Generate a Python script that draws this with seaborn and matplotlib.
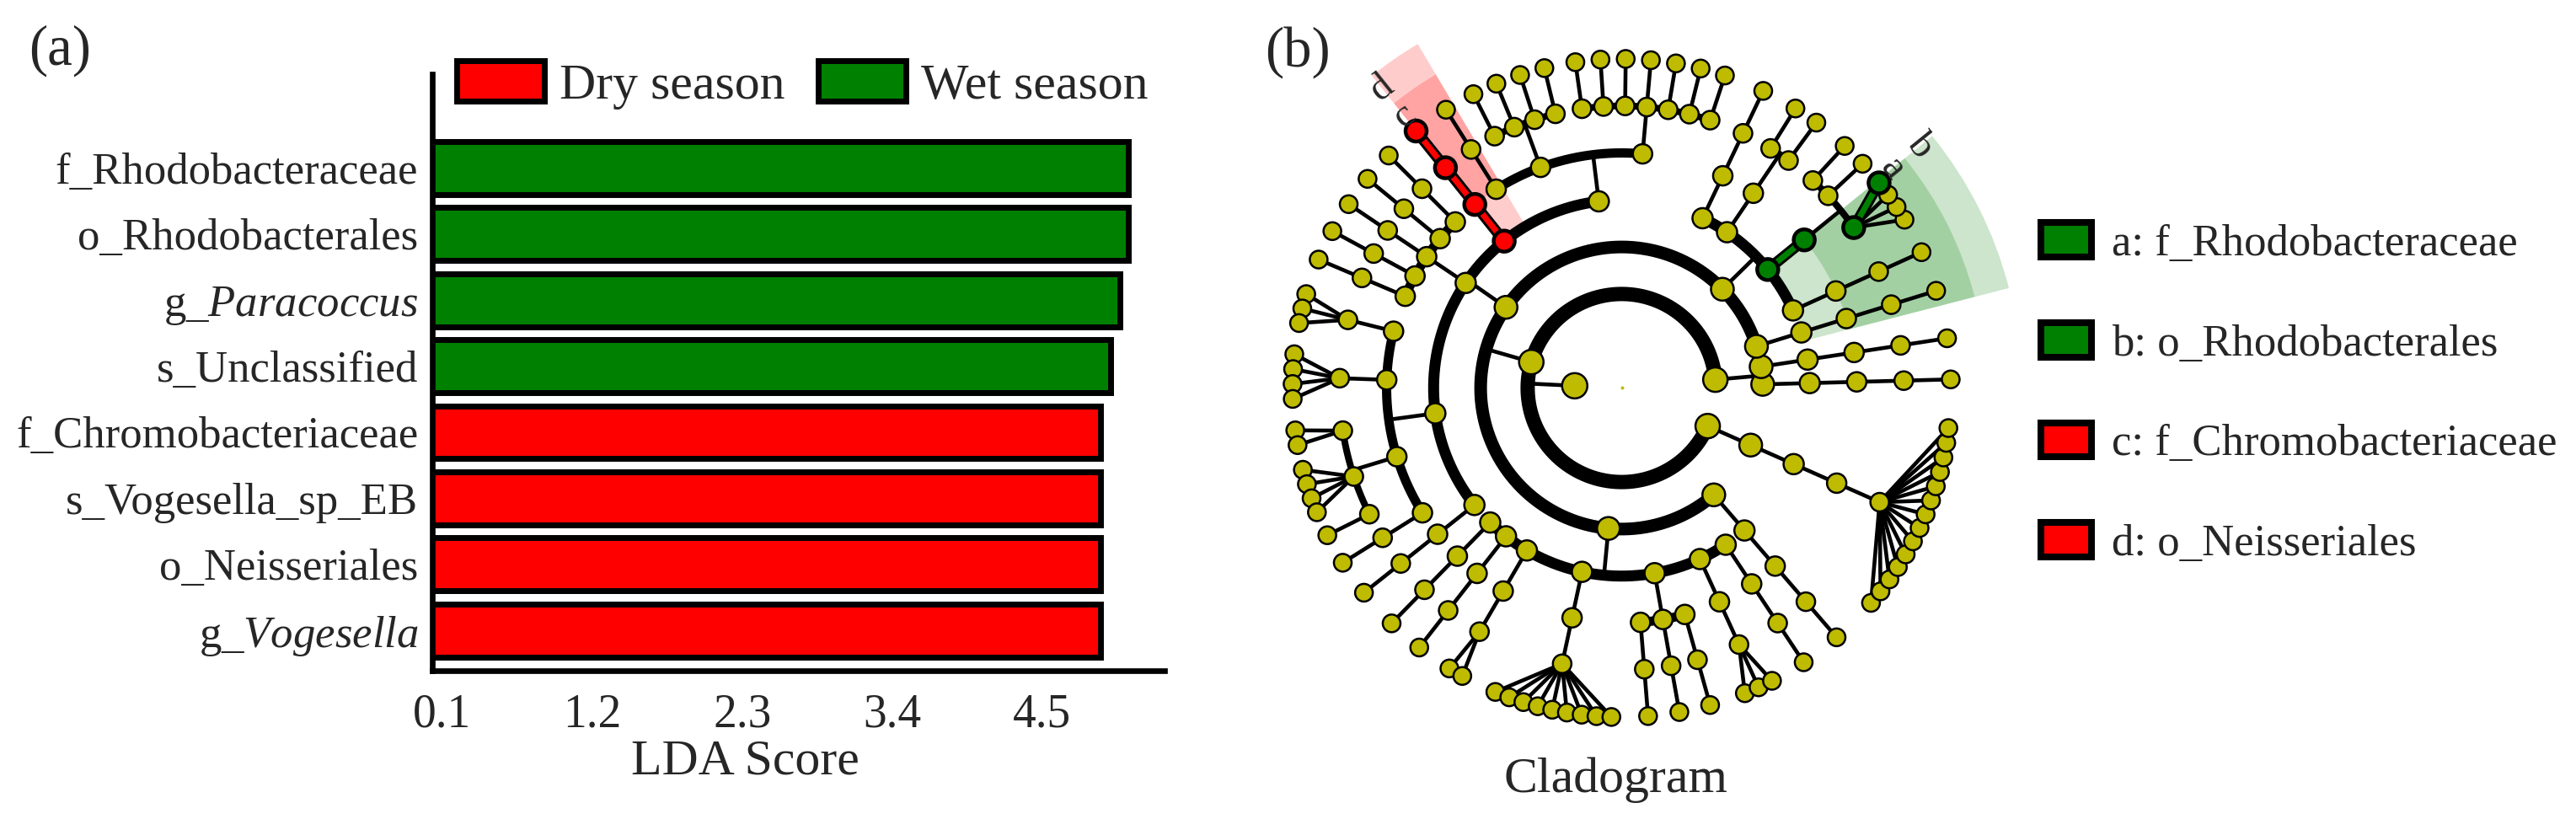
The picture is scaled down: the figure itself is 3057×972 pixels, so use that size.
import numpy as np
import pandas as pd
import matplotlib
matplotlib.use("Agg")
import matplotlib.pyplot as plt
from matplotlib.patches import Patch, Wedge
import seaborn as sns

# ---------------- data: panel (a) LDA scores ----------------
taxa = ["f_Rhodobacteraceae", "o_Rhodobacterales", "g_$\\mathit{Paracoccus}$",
        "s_Unclassified", "f_Chromobacteriaceae", "s_Vogesella_sp_EB",
        "o_Neisseriales", "g_$\\mathit{Vogesella}$"]
lda_score = [5.13, 5.13, 5.07, 5.00, 4.93, 4.93, 4.93, 4.93]
group = ["Wet season"] * 4 + ["Dry season"] * 4
lda_ticks = [0.1, 1.2, 2.3, 3.4, 4.5]
season_colors = {"Dry season": "#ff0000", "Wet season": "#008000"}

# ---------------- data: panel (b) cladogram ----------------
# kingdom -> phyla -> classes -> orders -> families -> genera (int = number of species)
phyla = [
    [[[[1]]], [[[1]]]],
    [
        [[[1]]],
        [[[1]], [[4, 1, 1]], [[1, 1]], [[1]]],
        [[[1] * 7, [1] * 4, [1]], [[1]], [[1], [1], [1], [1], [1]],
         [[3], [4], [2, 4, 1], [1]], [[1]]],
        [[[1]], [[1]], [[2]], [[9]], [[1], [1], [1]], [[3]], [[1]]],
        [[[1]]],
    ],
    [[[[14]]]],
]
# enriched clades (path from phylum index), group, letter
clade_paths = [(1, 1, 1), (1, 1, 1, 0), (1, 1, 1, 0, 0), (1, 1, 1, 0, 0, 3),
               (1, 2, 1), (1, 2, 1, 0), (1, 2, 1, 0, 0), (1, 2, 1, 0, 0, 0)]
clade_group = ["Wet season"] * 4 + ["Dry season"] * 4
clade_letter = ["b", "a", None, None, "d", "c", None, None]
legend_names = ["a: f_Rhodobacteraceae", "b: o_Rhodobacterales",
                "c: f_Chromobacteriaceae", "d: o_Neisseriales"]
legend_group = ["Wet season", "Wet season", "Dry season", "Dry season"]

node_color = "#bebb00"
PX = 0.72  # points per pixel at dpi 100

sns.set_style("white")
plt.rcParams["font.family"] = ["Liberation Serif", "DejaVu Serif"]
plt.rcParams["mathtext.fontset"] = "custom"
plt.rcParams["mathtext.rm"] = "Liberation Serif"
plt.rcParams["mathtext.it"] = "Liberation Serif:italic"

fig = plt.figure(figsize=(30.57, 9.72), dpi=100)

# ================= panel (a) =================
ax1 = fig.add_axes([513 / 3057, 1 - 796 / 972, 869 / 3057, 708 / 972])
df = pd.DataFrame({"taxon": taxa, "lda": lda_score, "group": group})
sns.barplot(data=df, x="lda", y="taxon", hue="group", palette=season_colors,
            saturation=1, dodge=False, orient="h", width=0.8, edgecolor="black",
            linewidth=5, legend=False, ax=ax1)
ax1.set_ylim(7.61, -1.42)
ax1.set_xlim(0.026, 5.397)
ax1.set_xticks(lda_ticks)
ax1.set_xticklabels([f"{t:.1f}" for t in lda_ticks])
ax1.set_ylabel("")
ax1.set_xlabel("LDA Score", fontsize=43, labelpad=0)
ax1.xaxis.set_label_coords(0.427, -0.115)
for s in ["top", "right"]:
    ax1.spines[s].set_visible(False)
for s in ["left", "bottom"]:
    ax1.spines[s].set_linewidth(4.8)
    ax1.spines[s].set_color("black")
ax1.tick_params(axis="y", length=0, pad=12, labelsize=38)
ax1.tick_params(axis="x", length=17, width=4.3, pad=2, labelsize=40,
                direction="out", color="black")
ax1.grid(False)
handles = [Patch(facecolor=season_colors[g], edgecolor="black", linewidth=5, label=g)
           for g in ["Dry season", "Wet season"]]
ax1.legend(handles=handles, loc="upper left", bbox_to_anchor=(0.033, 1.023),
           ncol=2, frameon=False, fontsize=43, handlelength=1.74,
           handleheight=0.87, handletextpad=0.31, columnspacing=0.66,
           borderpad=0, borderaxespad=0)

# ================= panel (b) =================
ax2 = fig.add_axes([1450 / 3057, 0, 950 / 3057, 1])
ax2.axis("off")

STEP = 55.8
GAP = [8.5, 7.2, 6.4, 5.5, 4.4, 2.6]   # angular gap by divergence rank
ARC_PX = {2: 17, 3: 15, 4: 13, 5: 11, 6: 8}
NODE_PX = {1: 30, 2: 29, 3: 27, 4: 24, 5: 23, 6: 22, 7: 21}
THIN = 4.6


def build(obj, level, path):
    if level == 7:
        return {"level": 7, "path": path, "kids": []}
    if level == 6:
        kids = [build(None, 7, path + (i,)) for i in range(obj)]
    else:
        kids = [build(o, level + 1, path + (i,)) for i, o in enumerate(obj)]
    return {"level": level, "path": path, "kids": kids}


kingdom = build(phyla, 1, ())
nodes, leaves = [], []


def collect(n):
    nodes.append(n)
    if not n["kids"]:
        leaves.append(n)
    for k in n["kids"]:
        collect(k)


collect(kingdom)

cum = [0.0]
for a, b in zip(leaves[:-1], leaves[1:]):
    k = next(i for i in range(6) if a["path"][i] != b["path"][i])
    cum.append(cum[-1] + GAP[k])
scale = 360.0 / (cum[-1] + GAP[0])
for n, c in zip(leaves, cum):
    n["theta"] = 1.5 + c * scale


def set_theta(n):
    if n["kids"]:
        for k in n["kids"]:
            set_theta(k)
        n["lo"], n["hi"] = n["kids"][0]["lo"], n["kids"][-1]["hi"]
        n["theta"] = (n["lo"] + n["hi"]) / 2
    else:
        n["lo"] = n["hi"] = n["theta"]


set_theta(kingdom)

hl = dict(zip(clade_paths, clade_group))
for n in nodes:
    n["hl"] = hl.get(n["path"])
    n["r"] = STEP * n["level"]
    t = np.radians(n["theta"])
    n["x"], n["y"] = n["r"] * np.cos(t), n["r"] * np.sin(t)


def pol(r, th):
    t = np.radians(th)
    return r * np.cos(t), r * np.sin(t)


def draw_links(n):
    kids = n["kids"]
    if not kids:
        return
    r0, r1 = n["r"], STEP * (n["level"] + 1)
    if kids[0]["level"] == 7 or len(kids) == 1:
        for k in kids:
            xs, ys = [n["x"], k["x"]], [n["y"], k["y"]]
            if n["hl"] and k["hl"] == n["hl"]:
                ax2.plot(xs, ys, color="black", lw=13 * PX, zorder=2,
                         solid_capstyle="butt")
                ax2.plot(xs, ys, color=season_colors[k["hl"]], lw=7 * PX, zorder=2.1,
                         solid_capstyle="butt")
            else:
                ax2.plot(xs, ys, color="black", lw=THIN * PX, zorder=1)
    else:
        p0, p1 = pol(r0, n["theta"]), pol(r1, n["theta"])
        ax2.plot([p0[0], p1[0]], [p0[1], p1[1]], color="black", lw=THIN * PX, zorder=1)
        th = np.linspace(kids[0]["theta"], kids[-1]["theta"], 400)
        ax2.plot(r1 * np.cos(np.radians(th)), r1 * np.sin(np.radians(th)),
                 color="black", lw=ARC_PX[n["level"] + 1] * PX, zorder=1,
                 solid_capstyle="butt")
    for k in kids:
        draw_links(k)


draw_links(kingdom)

# shaded sectors and letters of enriched clades
r_leaf = STEP * 7
for path, g, letter in zip(clade_paths, clade_group, clade_letter):
    if letter is None:
        continue
    n = next(m for m in nodes if m["path"] == path)
    lo, hi = n["lo"] - 4, n["hi"] + 4
    w = hi - lo
    outer = r_leaf + 42 * (6 - n["level"])
    ax2.add_patch(Wedge((0, 0), outer, lo - w / 2, hi - w / 2, width=outer - n["r"],
                        facecolor=season_colors[g], alpha=0.2, edgecolor="none",
                        zorder=0))
    lx, ly = pol(outer - 19, n["theta"])
    ax2.text(lx, ly, letter, fontsize=34, rotation=n["theta"] - 90,
             rotation_mode="anchor", ha="center", va="center", zorder=5)

nd = pd.DataFrame({"x": [n["x"] for n in nodes], "y": [n["y"] for n in nodes],
                   "level": [n["level"] for n in nodes],
                   "hl": [n["hl"] or "none" for n in nodes]})
plain = nd[nd["hl"] == "none"]
sns.scatterplot(data=plain, x="x", y="y", color=node_color, edgecolor="black",
                linewidth=1.8, s=[(NODE_PX[l] * PX) ** 2 for l in plain["level"]],
                zorder=3, legend=False, ax=ax2)
mark = nd[nd["hl"] != "none"]
sns.scatterplot(data=mark, x="x", y="y", hue="hl", palette=season_colors,
                edgecolor="black", linewidth=3.2, s=(25 * PX) ** 2, zorder=4,
                legend=False, ax=ax2)
ax2.scatter([0], [0], s=(4 * PX) ** 2, color=node_color, zorder=3, linewidths=0)
ax2.set_xlim(-474.5, 475.5)
ax2.set_ylim(-511.5, 460.5)
ax2.set_xlabel("")
ax2.set_ylabel("")

lh = [Patch(facecolor=season_colors[g], edgecolor="black", linewidth=5.8)
      for g in legend_group]
fig.legend(lh, legend_names, loc="upper left", bbox_to_anchor=(2422 / 3057, 0.7284),
           bbox_transform=fig.transFigure, frameon=False, fontsize=38,
           handlelength=1.14, handleheight=0.81, handletextpad=0.45,
           labelspacing=1.31, borderpad=0, borderaxespad=0)

fig.text(71 / 3057, 1 - 60 / 972, "(a)", fontsize=48, ha="center", va="center")
fig.text(1540 / 3057, 1 - 62 / 972, "(b)", fontsize=48, ha="center", va="center")
fig.text(1917 / 3057, 1 - 940 / 972, "Cladogram", fontsize=43, ha="center",
         va="baseline")

fig.savefig("out.png", dpi=100)
